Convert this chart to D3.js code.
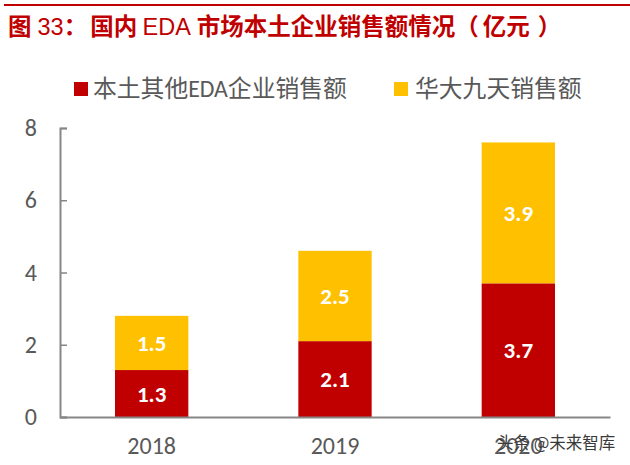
<!DOCTYPE html>
<html>
<head>
<meta charset="utf-8">
<script src="https://cdn.jsdelivr.net/npm/d3@7"></script>
<style>
  html, body { margin: 0; padding: 0; background: #fff; }
  svg { display: block; }
</style>
</head>
<body>
<div id="chart"></div>
<script>
const years = ["2018", "2019", "2020"];
const localOther = [1.3, 2.1, 3.7];
const empyrean = [1.5, 2.5, 3.9];
const yTicks = [0, 2, 4, 6, 8];
const seriesNames = ["本土其他EDA企业销售额", "华大九天销售额"];
const seriesColors = ["#c00000", "#ffc000"];

const width = 630;
const height = 465;
const margin = { top: 128, right: 20, bottom: 48, left: 60 };
const cjk = "'Noto Sans CJK SC', 'Noto Sans', sans-serif";
const latin = "Carlito, 'Open Sans', 'Noto Sans', sans-serif";

const svg = d3.select("#chart")
  .append("svg")
  .attr("width", width)
  .attr("height", height)
  .attr("viewBox", `0 0 ${width} ${height}`);

// top rule + title
svg.append("rect")
  .attr("x", 4).attr("y", 4)
  .attr("width", width - 4).attr("height", 2)
  .attr("fill", "#c00000");

const title = svg.append("text")
  .attr("x", 8).attr("y", 35)
  .attr("fill", "#c00000")
  .style("font-family", cjk)
  .style("font-size", "23.5px")
  .style("font-weight", "bold");
title.append("tspan").text("图");
title.append("tspan").style("font-family", "'Liberation Sans'").style("font-weight", "normal").attr("dx", 6).text("33");
title.append("tspan").text("：");
title.append("tspan").attr("dx", 3).text("国内 ");
title.append("tspan").style("font-family", "'Liberation Sans'").style("font-weight", "normal").text("EDA");
title.append("tspan").attr("dx", 6).text("市场本土企业销售额情况（");
title.append("tspan").attr("dx", 4).text("亿元");
title.append("tspan").attr("dx", 8).text("）");

// scales
const x = d3.scaleBand()
  .domain(years)
  .range([margin.left, width - margin.right])
  .paddingInner(0.6)
  .paddingOuter(0.3);

const y = d3.scaleLinear()
  .domain([0, 8])
  .range([height - margin.bottom, margin.top]);

// stacked bars
const rows = years.map((year, i) => ({ year, a: localOther[i], b: empyrean[i] }));
const stacked = d3.stack().keys(["a", "b"])(rows);

const layers = svg.selectAll("g.layer")
  .data(stacked)
  .enter()
  .append("g")
  .attr("class", "layer")
  .attr("fill", (d, i) => seriesColors[i]);

layers.selectAll("rect")
  .data((d) => d)
  .enter()
  .append("rect")
  .attr("x", (d) => x(d.data.year))
  .attr("y", (d) => y(d[1]))
  .attr("width", x.bandwidth())
  .attr("height", (d) => y(d[0]) - y(d[1]));

layers.selectAll("text")
  .data((d) => d)
  .enter()
  .append("text")
  .attr("x", (d) => x(d.data.year) + x.bandwidth() / 2)
  .attr("y", (d) => y((d[0] + d[1]) / 2) + 8)
  .attr("text-anchor", "middle")
  .attr("fill", "#fff")
  .style("font-family", latin)
  .style("font-size", "23px")
  .style("font-weight", "bold")
  .text((d) => (d[1] - d[0]).toFixed(1));

// axes
const xAxis = svg.append("g")
  .attr("transform", `translate(0, ${height - margin.bottom})`)
  .call(d3.axisBottom(x).tickSize(0).tickPadding(20));
xAxis.select(".domain").attr("stroke", "#868686").attr("stroke-width", 2);
xAxis.selectAll("text")
  .attr("fill", "#595959")
  .style("font-family", latin)
  .style("font-size", "24px");

const yAxis = svg.append("g")
  .attr("transform", `translate(${margin.left}, 0)`)
  .call(d3.axisLeft(y).tickValues(yTicks).tickSize(-7).tickPadding(23).tickSizeOuter(-7));
yAxis.select(".domain").attr("stroke", "#868686").attr("stroke-width", 2);
yAxis.selectAll("line").attr("stroke", "#868686").attr("stroke-width", 1.5);
yAxis.selectAll("text")
  .attr("fill", "#595959")
  .style("font-family", latin)
  .style("font-size", "24px");

// legend
const legendX = [74, 394];
const legendTextX = [19, 21];
const legendItems = svg.selectAll("g.legend")
  .data(seriesNames)
  .enter()
  .append("g")
  .attr("class", "legend")
  .attr("transform", (d, i) => `translate(${legendX[i]}, 82)`);

legendItems.append("rect")
  .attr("width", 14).attr("height", 14)
  .attr("fill", (d, i) => seriesColors[i]);

legendItems.append("text")
  .attr("x", (d, i) => legendTextX[i]).attr("y", 15)
  .attr("fill", "#595959")
  .style("font-family", `Carlito, ${cjk}`)
  .style("font-size", "23.8px")
  .text((d) => d);

// watermark over the last label
svg.append("text")
  .attr("x", 497).attr("y", 449)
  .attr("fill", "#3a3a3a")
  .style("font-family", cjk)
  .style("font-size", "16.5px")
  .text("头条 @未来智库");
</script>
</body>
</html>
